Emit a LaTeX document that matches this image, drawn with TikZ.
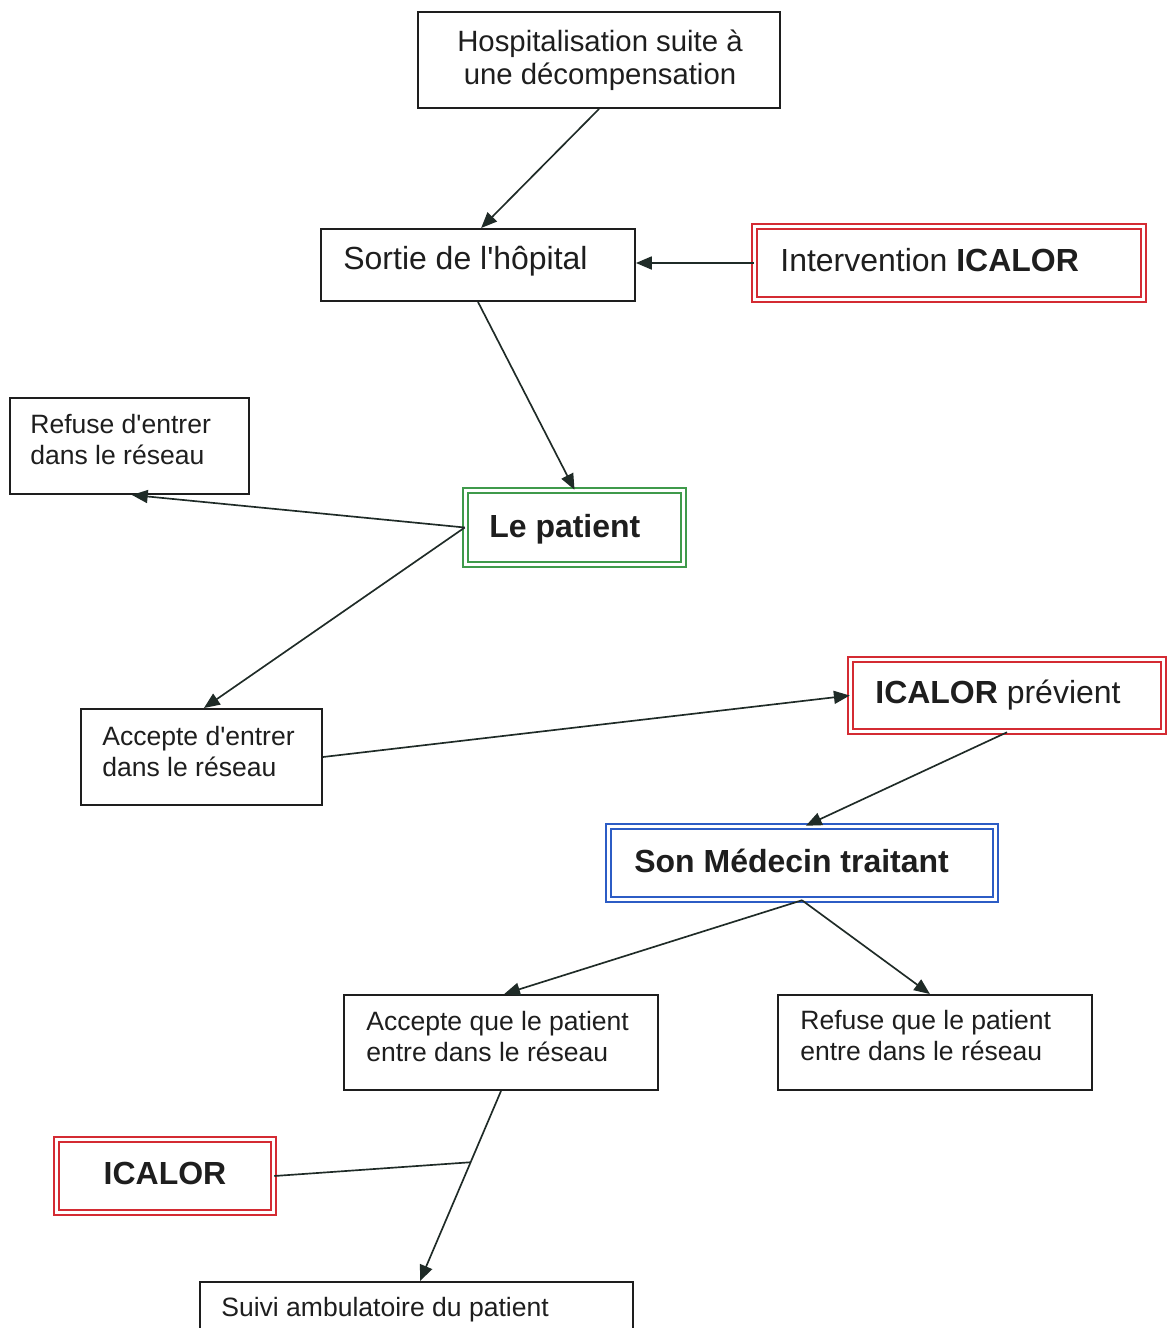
\documentclass[tikz,border=0pt]{standalone}
\usepackage{fontspec}
\setmainfont{Liberation Sans}
\usetikzlibrary{arrows.meta,calc,fit}
\definecolor{icred}{HTML}{D42B33}
\definecolor{icgreen}{HTML}{3F9A4B}
\definecolor{icblue}{HTML}{2C5CC5}
\definecolor{linec}{HTML}{1E1E1E}
\definecolor{arrowc}{HTML}{1F2B27}
\begin{document}
\begin{tikzpicture}[x=0.02cm,y=-0.02cm,
  box/.style={draw=linec, line width=1.1pt, inner sep=0pt},
  dbox/.style={draw=#1, line width=1.1pt, double=white, double distance=1.8pt, inner sep=0pt},
  conn/.style={draw=arrowc, line width=0.95pt, -{Triangle[length=9pt,width=7.4pt]}},
  plain/.style={draw=arrowc, line width=0.95pt},
  small/.style={font=\fontsize{15.1}{17.6}\selectfont, inner sep=0pt, anchor=base west, text=linec},
  big/.style={font=\fontsize{18.2}{21}\selectfont, inner sep=0pt, anchor=base west, text=linec}
]
\useasboundingbox (0,0) rectangle (1168,1328);
\clip (0,0) rectangle (1168,1328);
\fill[white] (0,0) rectangle (1168,1328);

% boxes
\node[box, fit={(418,12) (780,108)}] (hosp) {};
\node[box, fit={(321,229) (635,301)}] (sortie) {};
\node[dbox=icred, fit={(754.7,226.7) (1143.3,299.3)}] (interv) {};
\node[box, fit={(10,398) (249,494)}] (refuse) {};
\node[dbox=icgreen, fit={(465.7,490.7) (683.3,564.3)}] (patient) {};
\node[box, fit={(81,709) (322,805)}] (accepte) {};
\node[dbox=icred, fit={(850.7,659.7) (1163.3,731.3)}] (previent) {};
\node[dbox=icblue, fit={(608.7,826.7) (995.3,899.3)}] (medecin) {};
\node[box, fit={(344,995) (658,1090)}] (aq) {};
\node[box, fit={(778,995) (1092,1090)}] (rq) {};
\node[dbox=icred, fit={(56.7,1139.7) (273.3,1212.3)}] (icalor) {};
\node[box, fit={(200,1282) (633,1380)}] (suivi) {};

% texts
\node[font=\fontsize{16.7}{18.7}\selectfont, inner sep=0pt, anchor=base, text=linec] (hosp-t) at (600,51.5)
  {\begin{tabular}[t]{@{}c@{}}Hospitalisation suite à\\une décompensation\end{tabular}};
\node[big] (sortie-t) at (343,269.5) {Sortie de l\textquotesingle hôpital};
\node[big] (interv-t) at (780,271.5) {Intervention \textbf{ICALOR}};
\node[small] (refuse-t) at (30,433.5)
  {\begin{tabular}[t]{@{}l@{}}Refuse d\textquotesingle entrer\\dans le réseau\end{tabular}};
\node[big] (patient-t) at (489,537.5) {\textbf{Le patient}};
\node[small] (accepte-t) at (102,745.5)
  {\begin{tabular}[t]{@{}l@{}}Accepte d\textquotesingle entrer\\dans le réseau\end{tabular}};
\node[big] (previent-t) at (875,703.5) {\textbf{ICALOR} prévient};
\node[big] (medecin-t) at (634,872.5) {\textbf{Son Médecin traitant}};
\node[small] (aq-t) at (366,1030.5)
  {\begin{tabular}[t]{@{}l@{}}Accepte que le patient\\entre dans le réseau\end{tabular}};
\node[small] (rq-t) at (800,1029.5)
  {\begin{tabular}[t]{@{}l@{}}Refuse que le patient\\entre dans le réseau\end{tabular}};
\node[big, anchor=base] (icalor-t) at (165,1184.5) {\textbf{ICALOR}};
\node[small] (suivi-t) at (221,1316.5) {Suivi ambulatoire du patient};

% connectors
\draw[conn] (hosp.south) -- ($(sortie.north west)!0.51!(sortie.north east)$);
\draw[conn] (interv.west) -- (interv.west -| sortie.east);
\draw[conn] (sortie.south) -- (patient.north);
\draw[conn] (patient.west) -- ($(refuse.south west)!0.51!(refuse.south east)$);
\draw[conn] (patient.west) -- ($(accepte.north west)!0.51!(accepte.north east)$);
\draw[conn] (accepte.east) -- (previent.west);
\draw[conn] (previent.south) -- ($(medecin.north west)!0.51!(medecin.north east)$);
\draw[conn] (medecin.south) -- ($(aq.north west)!0.51!(aq.north east)$);
\draw[conn] (medecin.south) -- ($(rq.north west)!0.484!(rq.north east)$);
\draw[conn] (aq.south) -- ($(suivi.north west)!0.508!(suivi.north east)$);
\coordinate (junction) at ($(aq.south)!0.375!($(suivi.north west)!0.508!(suivi.north east)$)$);
\draw[plain] (icalor.east) -- (junction);
\end{tikzpicture}
\end{document}
